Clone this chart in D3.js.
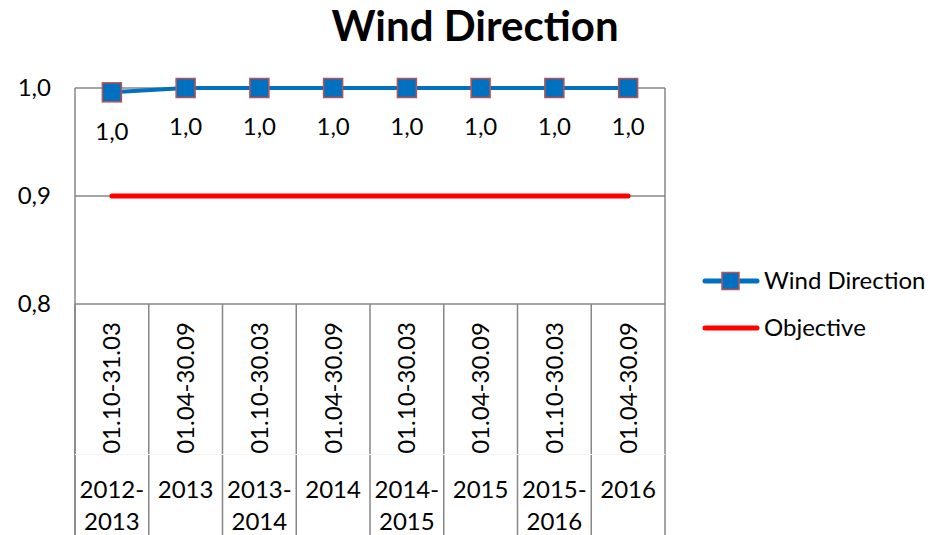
<!DOCTYPE html>
<html>
<head>
<meta charset="utf-8">
<script src="https://cdn.jsdelivr.net/npm/d3@7"></script>
<style>
  body { margin: 0; background: #fff; }
  text { font-family: Lato, "Open Sans", sans-serif; fill: #000; }
</style>
</head>
<body>
<svg id="chart" width="928" height="535"></svg>
<script>
// Chart data
var periods = ['01.10-31.03', '01.04-30.09', '01.10-30.03', '01.04-30.09',
  '01.10-30.03', '01.04-30.09', '01.10-30.03', '01.04-30.09'];
var years = [['2012-', '2013'], ['2013'], ['2013-', '2014'], ['2014'],
  ['2014-', '2015'], ['2015'], ['2015-', '2016'], ['2016']];
var windDirection = [0.996, 1.0, 1.0, 1.0, 1.0, 1.0, 1.0, 1.0];
var objective = [0.9, 0.9, 0.9, 0.9, 0.9, 0.9, 0.9, 0.9];
var yTicks = [0.8, 0.9, 1.0];

var svg = d3.select('#chart');

var plot = {left: 75, right: 665, top: 88, bottom: 304};

var x = d3.scaleBand()
  .domain(d3.range(periods.length))
  .range([plot.left, plot.right]);

var y = d3.scaleLinear()
  .domain([0.8, 1.0])
  .range([plot.bottom, plot.top]);

var fmt = function(v) { return d3.format('.1f')(v).replace('.', ','); };

// Title
svg.append('text')
  .attr('x', 475)
  .attr('y', 41)
  .attr('text-anchor', 'middle')
  .style('font-size', '42px')
  .style('font-weight', 'bold')
  .text('Wind Direction');

// Gridlines
svg.append('g')
  .selectAll('line')
  .data(yTicks)
  .enter()
  .append('line')
  .attr('x1', plot.left)
  .attr('x2', plot.right)
  .attr('y1', function(d) { return y(d); })
  .attr('y2', function(d) { return y(d); })
  .attr('stroke', '#878787')
  .attr('stroke-width', 1.5);

// Y axis labels
svg.append('g')
  .selectAll('text')
  .data(yTicks)
  .enter()
  .append('text')
  .attr('x', 51)
  .attr('y', function(d) { return y(d); })
  .attr('dy', '0.35em')
  .attr('text-anchor', 'end')
  .style('font-size', '24px')
  .text(fmt);

// Plot frame (left side)
svg.append('line')
  .attr('x1', plot.left).attr('x2', plot.left)
  .attr('y1', plot.top).attr('y2', 535)
  .attr('stroke', '#878787').attr('stroke-width', 1.5);

// Category separators below the axis
var bounds = d3.range(periods.length + 1).map(function(i) {
  return plot.left + i * x.bandwidth();
});
svg.append('g')
  .selectAll('line')
  .data(bounds)
  .enter()
  .append('line')
  .attr('x1', function(d) { return d; })
  .attr('x2', function(d) { return d; })
  .attr('y1', function(d, i) { return i === bounds.length - 1 ? plot.top : plot.bottom; })
  .attr('y2', 535)
  .attr('stroke', '#878787')
  .attr('stroke-width', 1.5);

// Faint separator between the two label levels
svg.append('line')
  .attr('x1', plot.left).attr('x2', plot.right)
  .attr('y1', 454.5).attr('y2', 454.5)
  .attr('stroke', '#f4f4f4').attr('stroke-width', 1);

// Period labels (rotated)
svg.append('g')
  .selectAll('text')
  .data(periods)
  .enter()
  .append('text')
  .attr('transform', function(d, i) {
    return 'translate(' + (x(i) + x.bandwidth() / 2) + ',388) rotate(-90)';
  })
  .attr('dy', '0.35em')
  .attr('text-anchor', 'middle')
  .style('font-size', '24px')
  .text(String);

// Year labels
svg.append('g')
  .selectAll('text')
  .data(years)
  .enter()
  .append('text')
  .attr('x', function(d, i) { return x(i) + x.bandwidth() / 2; })
  .attr('y', 490)
  .attr('text-anchor', 'middle')
  .style('font-size', '24px')
  .each(function(d) {
    d3.select(this).selectAll('tspan')
      .data(d)
      .enter()
      .append('tspan')
      .attr('x', d3.select(this).attr('x'))
      .attr('dy', function(t, j) { return j === 0 ? '0.35em' : '1.3em'; })
      .text(String);
  });

var cx = function(d, i) { return x(i) + x.bandwidth() / 2; };

// Objective line
svg.append('path')
  .datum(objective)
  .attr('fill', 'none')
  .attr('stroke', '#ff0000')
  .attr('stroke-width', 5)
  .attr('stroke-linecap', 'round')
  .attr('d', d3.line().x(cx).y(function(d) { return y(d); }));

// Wind direction line
svg.append('path')
  .datum(windDirection)
  .attr('fill', 'none')
  .attr('stroke', '#0070c0')
  .attr('stroke-width', 4)
  .attr('stroke-linecap', 'round')
  .attr('d', d3.line().x(cx).y(function(d) { return y(d); }));

// Markers
svg.append('g')
  .selectAll('rect')
  .data(windDirection)
  .enter()
  .append('rect')
  .attr('x', function(d, i) { return cx(d, i) - 9.5; })
  .attr('y', function(d) { return y(d) - 9.5; })
  .attr('width', 19)
  .attr('height', 19)
  .attr('fill', '#0070c0')
  .attr('stroke', '#c0504d')
  .attr('stroke-width', 1.5);

// Data labels
svg.append('g')
  .selectAll('text')
  .data(windDirection)
  .enter()
  .append('text')
  .attr('x', cx)
  .attr('y', function(d) { return y(d) + 39; })
  .attr('dy', '0.35em')
  .attr('text-anchor', 'middle')
  .style('font-size', '24px')
  .text(fmt);

// Legend
var legend = svg.append('g');
legend.append('line')
  .attr('x1', 705).attr('x2', 757)
  .attr('y1', 281).attr('y2', 281)
  .attr('stroke', '#0070c0').attr('stroke-width', 5)
  .attr('stroke-linecap', 'round');
legend.append('rect')
  .attr('x', 722).attr('y', 272.5)
  .attr('width', 17).attr('height', 17)
  .attr('fill', '#0070c0')
  .attr('stroke', '#c0504d').attr('stroke-width', 1.5);
legend.append('text')
  .attr('x', 764).attr('y', 281).attr('dy', '0.35em')
  .style('font-size', '24px')
  .text('Wind Direction');
legend.append('line')
  .attr('x1', 705).attr('x2', 757)
  .attr('y1', 328).attr('y2', 328)
  .attr('stroke', '#ff0000').attr('stroke-width', 5)
  .attr('stroke-linecap', 'round');
legend.append('text')
  .attr('x', 764).attr('y', 328).attr('dy', '0.35em')
  .style('font-size', '24px')
  .text('Objective');
</script>
</body>
</html>
